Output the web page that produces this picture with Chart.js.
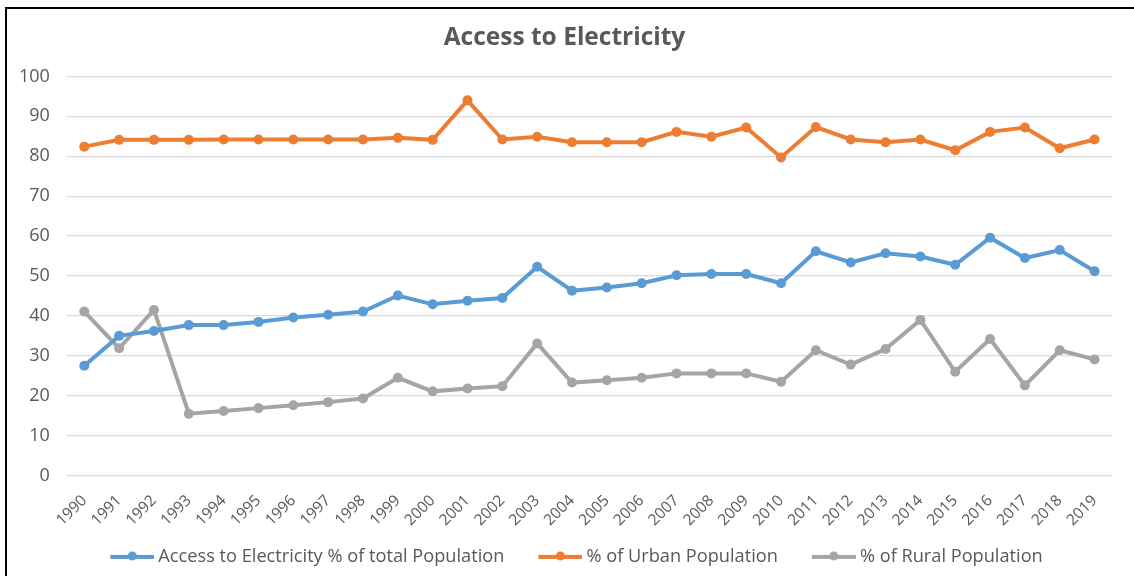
<!DOCTYPE html>
<html>
<head>
<meta charset="utf-8">
<script src="https://cdn.jsdelivr.net/npm/chart.js@4"></script>
<style>
  html, body { margin: 0; padding: 0; background: #fff; }
  #wrap {
    position: absolute; left: 5px; top: 7px;
    width: 1129px; height: 569px;
    box-sizing: border-box;
    border-left: 2px solid #000; border-top: 2px solid #000;
  }
</style>
</head>
<body>
<div id="wrap"><canvas id="accessChart"></canvas></div>
<script>
const years = ['1990','1991','1992','1993','1994','1995','1996','1997','1998','1999',
               '2000','2001','2002','2003','2004','2005','2006','2007','2008','2009',
               '2010','2011','2012','2013','2014','2015','2016','2017','2018','2019'];

const totalPop = [27.5, 35.0, 36.2, 37.7, 37.7, 38.5, 39.6, 40.3, 41.1, 45.1,
                  42.9, 43.8, 44.5, 52.3, 46.3, 47.1, 48.2, 50.2, 50.5, 50.5,
                  48.2, 56.2, 53.4, 55.7, 54.9, 52.8, 59.6, 54.5, 56.5, 51.2];

const urbanPop = [82.4, 84.1, 84.1, 84.1, 84.2, 84.2, 84.2, 84.2, 84.2, 84.6,
                  84.1, 94.0, 84.2, 84.9, 83.5, 83.5, 83.5, 86.1, 84.9, 87.2,
                  79.7, 87.3, 84.2, 83.5, 84.2, 81.5, 86.1, 87.2, 82.0, 84.2];

const ruralPop = [41.1, 31.9, 41.5, 15.5, 16.2, 16.9, 17.6, 18.4, 19.3, 24.5,
                  21.1, 21.8, 22.4, 33.1, 23.3, 23.9, 24.5, 25.6, 25.6, 25.6,
                  23.5, 31.4, 27.8, 31.7, 39.0, 26.0, 34.2, 22.6, 31.4, 29.1];

const seriesNames = ['Access to Electricity % of total Population', '% of Urban Population', '% of Rural Population'];
const seriesColors = ['#5b9bd5', '#ed7d31', '#a5a5a5'];

const textColor = '#595959';
const fontFamily = '"Open Sans", "Liberation Sans", sans-serif';

// legend box is 63 wide, the image is drawn centred on it and 10 wider,
// so the marker sits just before the text and the empty left part spaces the items
const markerBox = 63;
function legendMarker(color) {
    const c = document.createElement('canvas');
    const w = markerBox + 10, h = 12;
    const lineLen = 44;
    c.width = w; c.height = h;
    const g = c.getContext('2d');
    g.strokeStyle = color;
    g.lineWidth = 4;
    g.beginPath();
    g.moveTo(w - lineLen, h / 2);
    g.lineTo(w, h / 2);
    g.stroke();
    g.fillStyle = color;
    g.beginPath();
    g.arc(w - lineLen / 2, h / 2 - 1, 4.5, 0, Math.PI * 2);
    g.fill();
    return c;
}

function makeDataset(i, values) {
    return {
        label: seriesNames[i],
        data: values,
        borderColor: seriesColors[i],
        backgroundColor: seriesColors[i],
        borderWidth: 4,
        pointRadius: 5,
        pointHoverRadius: 5,
        pointBorderWidth: 0,
        tension: 0
    };
}

const ctx = document.getElementById('accessChart').getContext('2d');
const accessChart = new Chart(ctx, {
    type: 'line',
    data: {
        labels: years,
        datasets: [
            makeDataset(0, totalPop),
            makeDataset(1, urbanPop),
            makeDataset(2, ruralPop)
        ]
    },
    options: {
        responsive: true,
        maintainAspectRatio: false,
        animation: false,
        layout: { padding: { left: 10, right: 22, top: 0, bottom: 0 } },
        plugins: {
            title: {
                display: true,
                text: 'Access to Electricity',
                color: textColor,
                font: { family: fontFamily, size: 24.5, weight: 'bold' },
                padding: { top: 14, bottom: 24 }
            },
            legend: {
                position: 'bottom',
                labels: {
                    usePointStyle: true,
                    pointStyleWidth: markerBox,
                    color: textColor,
                    font: { family: fontFamily, size: 18.2 },
                    padding: 10,
                    generateLabels: (chart) => chart.data.datasets.map((ds, i) => ({
                        text: ds.label,
                        fontColor: textColor,
                        pointStyle: legendMarker(seriesColors[i]),
                        strokeStyle: seriesColors[i],
                        fillStyle: seriesColors[i],
                        lineWidth: 0,
                        datasetIndex: i
                    }))
                }
            },
            tooltip: { enabled: false }
        },
        scales: {
            x: {
                offset: true,
                grid: { display: false },
                border: { display: false },
                ticks: {
                    color: textColor,
                    font: { family: fontFamily, size: 15.5 },
                    minRotation: 45,
                    maxRotation: 45,
                    autoSkip: false,
                    padding: 8
                },
                afterFit: (scale) => {
                    // rotated year labels should not push the plot to the right
                    scale.paddingLeft = 0;
                    scale.paddingRight = 0;
                }
            },
            y: {
                min: 0,
                max: 100,
                grid: { color: '#d9d9d9', lineWidth: 1.3, drawTicks: false },
                border: { display: false },
                ticks: {
                    stepSize: 10,
                    color: textColor,
                    font: { family: fontFamily, size: 18 },
                    padding: 17
                },
                afterFit: (scale) => {
                    // tick padding is counted on both sides; drop the outer one
                    scale.width -= 15;
                }
            }
        }
    }
});
</script>
</body>
</html>
